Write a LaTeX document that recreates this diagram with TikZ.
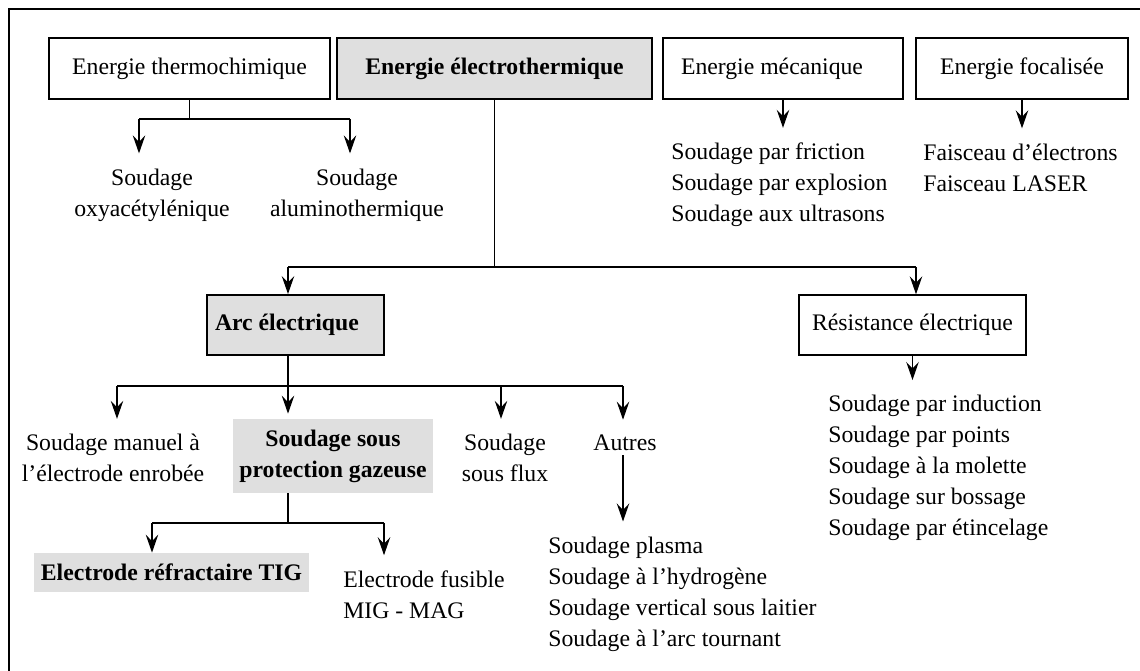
\documentclass[tikz,border=0pt]{standalone}
\usepackage{fontspec}
\setmainfont{Liberation Serif}
\usetikzlibrary{arrows.meta}

\begin{document}
\begin{tikzpicture}
[x=0.02cm,y=-0.02cm,
  every node/.style={font=\fontsize{13.5pt}{17.6pt}\selectfont},
  nodedecorate/.style={shape=rectangle,draw,line width=1.1pt,minimum height=1.22cm,inner sep=0pt},
  graydecorate/.style={fill=gray!25},
  textdecorate/.style={inner sep=0pt,align=left},
  linedecorate/.style={-,line width=0.7pt},
  arrowdecorate/.style={-{Stealth[length=0.36cm,width=0.25cm,inset=0.13cm]},line width=0.7pt},
  arrowtext/.style={arrowdecorate,shorten >=0.3cm}]
%%% frame
\useasboundingbox (0,0) rectangle (1140,671);
\draw[line width=0.8pt] (9,671) -- (9,9) -- (1140,9);
%
%%% energies
% boxes
\node (a) at (189.5,68.5) [nodedecorate,minimum width=5.62cm] {Energie thermochimique};
\node (b) at (494.5,68.5) [nodedecorate,graydecorate,minimum width=6.3cm] {\textbf{Energie électrothermique}};
\node (c) at (783,68.5) [nodedecorate,minimum width=4.8cm,inner xsep=0.36cm,text width=4.08cm,align=flush left] {Energie mécanique};
\node (d) at (1022,68.5) [nodedecorate,minimum width=4.24cm] {Energie focalisée};
% processes
\node (e) at (152,195) [textdecorate,align=center] {Soudage\\oxyacétylénique};
\node (f) at (357,195) [textdecorate,align=center] {Soudage\\aluminothermique};
\node (g) at (671,185) [textdecorate,anchor=west] {Soudage par friction\\Soudage par explosion\\Soudage aux ultrasons};
\node (h) at (923,167.5) [textdecorate,anchor=west] {Faisceau d'électrons\\Faisceau LASER};
\node (i) at (295.5,325) [nodedecorate,graydecorate,minimum height=1.2cm,inner xsep=0.16cm,text width=3.22cm,align=flush left] {\textbf{Arc électrique}};
\node (j) at (912.5,325) [nodedecorate,line width=0.8pt,minimum width=4.54cm,minimum height=1.2cm] {Résistance électrique};
%
%%% arc électrique
\node (k) at (113,458) [textdecorate,align=center] {Soudage manuel à\\l'électrode enrobée};
\node (l) at (333,456) [graydecorate,minimum width=4cm,minimum height=1.48cm,inner sep=0pt,align=center] {\textbf{Soudage sous}\\\textbf{protection gazeuse}};
\node (m) at (505,458) [textdecorate,align=center] {Soudage\\sous flux};
\node (n) at (625,443) [textdecorate] {Autres};
\node (o) at (171.5,572.5) [graydecorate,minimum width=5.5cm,minimum height=0.78cm,inner sep=0pt] {\textbf{Electrode réfractaire TIG}};
\node (p) at (343,594.5) [textdecorate,anchor=west] {Electrode fusible\\MIG - MAG};
\node (q) at (548,594) [textdecorate,anchor=west] {Soudage plasma\\Soudage à l'hydrogène\\Soudage vertical sous laitier\\Soudage à l'arc tournant};
\node (r) at (828,468) [textdecorate,anchor=west] {Soudage par induction\\Soudage par points\\Soudage à la molette\\Soudage sur bossage\\Soudage par étincelage};
%
%%% lines and arrows
% thermochimique
\coordinate (t1) at (139,119);
\coordinate (t2) at (350,119);
\draw[linedecorate] (a.south) -- (a.south |- t1);
\draw[linedecorate] (t1) -- (t2);
\draw[arrowtext] (t1) -- (t1 |- e.north);
\draw[arrowtext] (t2) -- (t2 |- f.north);
% électrothermique
\coordinate (u1) at (288,267);
\coordinate (u2) at (916,267);
\draw[linedecorate] (b.south) -- (b.south |- u1);
\draw[linedecorate] (u1) -- (u2);
\draw[arrowdecorate] (u1) -- (u1 |- i.north);
\draw[arrowdecorate] (u2) -- (u2 |- j.north);
% mécanique, focalisée, résistance
\draw[arrowtext] (c.south) -- (c.south |- g.north);
\draw[arrowtext] (d.south) -- (d.south |- h.north);
\draw[arrowtext] (j.south) -- (j.south |- r.north);
% arc électrique
\coordinate (w1) at (117,386);
\coordinate (w2) at (288,386);
\coordinate (w3) at (501,386);
\coordinate (w4) at (623,386);
\draw[linedecorate] (i.south -| w2) -- (w2);
\draw[linedecorate] (w1) -- (w4);
\draw[arrowtext] (w1) -- (w1 |- k.north);
\draw[arrowdecorate,shorten >=0.1cm] (w2) -- (w2 |- l.north);
\draw[arrowtext] (w3) -- (w3 |- m.north);
\draw[arrowtext] (w4) -- (w4 |- n.north);
\draw[arrowtext,shorten <=0.08cm] (n.south -| w4) -- (w4 |- q.north);
% protection gazeuse
\coordinate (x1) at (152,523);
\coordinate (x2) at (384,523);
\draw[linedecorate] (l.south -| w2) -- (w2 |- x1);
\draw[linedecorate] (x1) -- (x2);
\draw[arrowdecorate] (x1) -- (x1 |- o.north);
\draw[arrowtext] (x2) -- (x2 |- p.north);
\end{tikzpicture}
\end{document}
